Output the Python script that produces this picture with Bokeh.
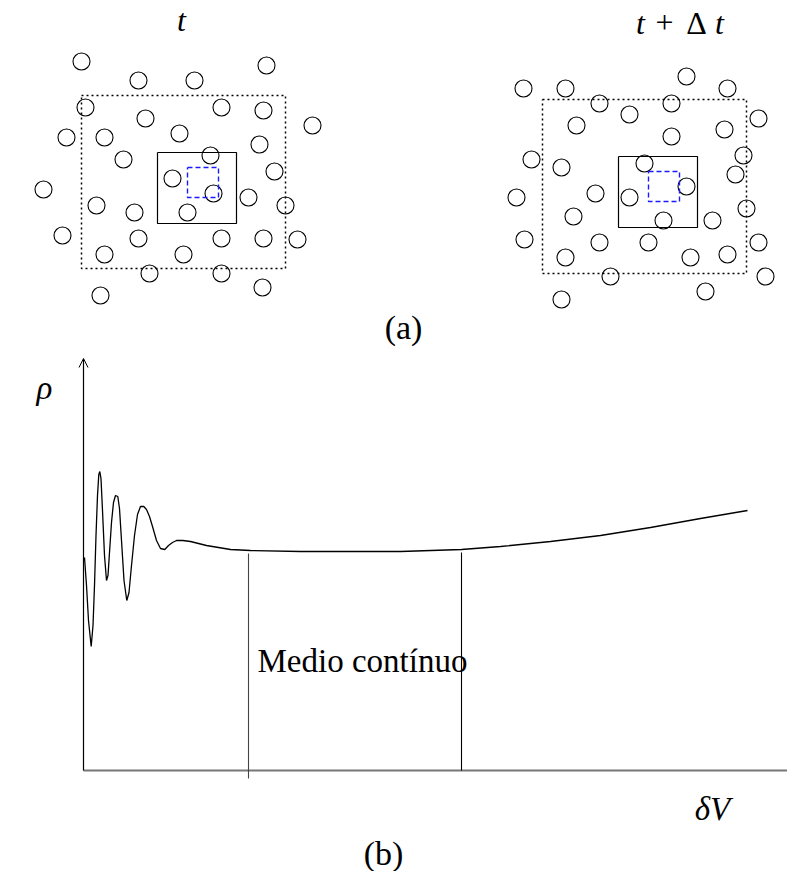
from bokeh.plotting import figure
from bokeh.models import Range1d, Arrow, OpenHead
from bokeh.core.properties import value
from bokeh.embed import file_html
from bokeh.resources import INLINE

# ---- panel (a): particle positions at t and t+dt (page pixel frame) ----
left_x = [81, 138, 194, 266, 85, 221, 263, 145, 312, 66, 104, 179, 259, 123, 210, 274, 172, 43,
          213, 248, 96, 285, 134, 187, 62, 138, 221, 263, 297, 104, 183, 149, 221, 262, 100]
left_y = [61, 80, 80, 65, 107, 107, 110, 118, 125, 137, 137, 133, 144, 159, 155, 171, 178, 189,
          193, 197, 205, 205, 212, 212, 235, 238, 238, 238, 239, 254, 254, 273, 273, 287, 295]
right_x = [523, 565, 686, 727, 599, 671, 629, 576, 758, 724, 671, 531, 561, 644, 743, 735, 516, 595,
           629, 686, 573, 663, 712, 746, 524, 599, 648, 758, 565, 690, 727, 610, 765, 705, 561]
right_y = [88, 88, 76, 88, 103, 103, 114, 125, 118, 129, 136, 159, 167, 163, 155, 174, 197, 193,
           197, 186, 216, 220, 220, 208, 239, 242, 242, 242, 257, 257, 254, 276, 276, 291, 299]

# boxes: [left, right, top, bottom]
left_outer = [81, 285, 95, 268]
left_mid = [157, 236, 152, 223]
left_inner = [187, 218, 167, 197]
right_outer = [542, 746, 99, 273]
right_mid = [618, 697, 156, 227]
right_inner = [648, 679, 171, 201]

# ---- panel (b): density vs volume curve ----
curve_x = [84, 86, 88, 90.7, 92.5, 94, 95.5, 97, 98.3, 99.3, 100.5, 102, 104, 106, 107.5, 109,
           111, 113, 115, 117.3, 119, 121, 123.5, 126.3, 128.5, 131, 134, 137, 140, 143.3, 146,
           149, 152, 156, 160, 164.3, 168, 172, 176, 182.3, 190, 206, 230,
           250, 300, 350, 400, 461, 500, 550, 600, 650, 700, 747]
curve_y = [557, 585, 620, 646, 625, 585, 535, 495, 474, 471, 478, 510, 555, 580, 575, 552,
           522, 502, 495, 496, 508, 540, 580, 600, 592, 565, 535, 514, 506, 506, 509,
           516, 526, 540, 548, 549, 545, 542, 540, 540, 541, 545, 549,
           550, 551, 551, 551, 549, 546, 541, 535, 527, 518, 510]
axis_origin = [83, 770]
axis_top = 358
axis_right = 787
limits_x = [248, 461]
limits_top = [553, 552]
limits_bottom = [778, 770]

serif = value("Liberation Serif")

p = figure(width=787, height=871, output_backend="svg", toolbar_location=None,
           x_range=Range1d(0, 787), y_range=Range1d(871, 0), min_border=0)
p.axis.visible = False
p.grid.visible = False
p.outline_line_color = None

# particles
p.scatter(left_x + right_x, left_y + right_y, marker="circle", size=17,
          fill_color=None, line_color="black", line_width=1.1)

def box(b, color, dash, width):
    l, r, t, bt = b
    p.line([l, r, r, l, l], [t, t, bt, bt, t], line_color=color, line_dash=dash,
           line_width=width)

box(left_outer, "black", "2 3", 1.5)
box(right_outer, "black", "2 3", 1.5)
box(left_mid, "black", "solid", 1.2)
box(right_mid, "black", "solid", 1.2)
box(left_inner, "#1a1aff", "5 3", 1.4)
box(right_inner, "#1a1aff", "5 3", 1.4)

def label(x, y, s, size="32px", style="normal", align="center"):
    p.text([x], [y], text=[s], text_font=serif, text_font_style=style,
           text_font_size=size, text_align=align, text_baseline="middle")

# titles
label(181, 19, "t", style="italic")
label(640, 22, "t", style="italic")
label(664, 22, "+")
label(696, 22, "Δ")
label(719, 22, "t", style="italic")
label(403, 327, "(a)", size="34px")

# panel (b)
ox, oy = axis_origin
p.line([ox, axis_right], [oy, oy], line_color="#777777", line_width=2)
p.add_layout(Arrow(end=OpenHead(size=9, line_width=1), x_start=ox, y_start=oy,
                   x_end=ox, y_end=axis_top, line_width=1.2))
for xx, t0, b0, c in zip(limits_x, limits_top, limits_bottom, ["#444444", "black"]):
    p.line([xx, xx], [t0, b0], line_color=c, line_width=1.1)
p.line(curve_x, curve_y, line_color="black", line_width=1.3)

label(44, 387, "ρ", style="italic", size="33px")
label(712, 808, "δV", style="italic", size="33px")
label(257, 660, "Medio contínuo", size="33px", align="left")
label(383, 853, "(b)", size="34px")

open("out.html", "w").write(file_html(p, INLINE))
